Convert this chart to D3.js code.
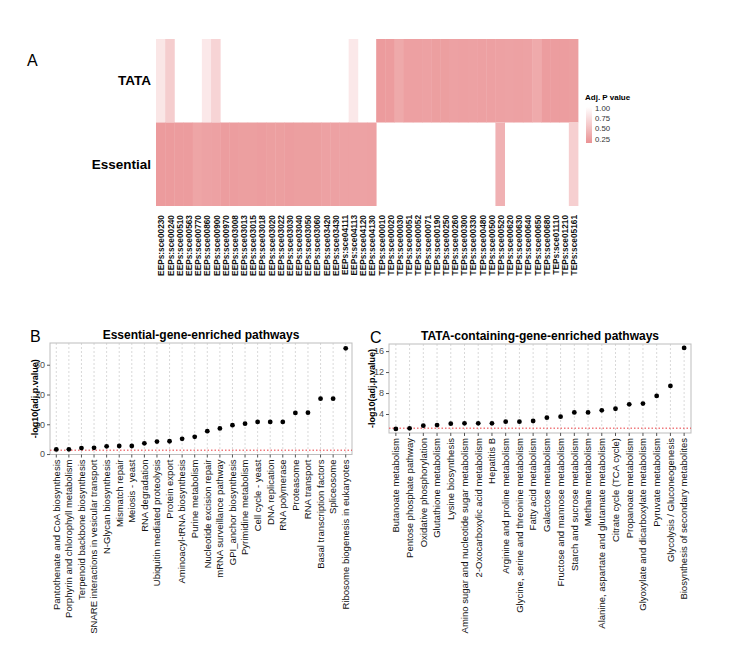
<!DOCTYPE html>
<html><head><meta charset="utf-8">
<script src="https://cdn.jsdelivr.net/npm/d3@7"></script>
<style>body{margin:0;background:#fff}svg{display:block;font-family:"Liberation Sans",Arial,sans-serif}</style>
</head><body><svg id="c" width="736" height="662"></svg>
<script>
// ---------- DATA ----------
const eepCols = ["EEPs:sce00230","EEPs:sce00240","EEPs:sce00510","EEPs:sce00563","EEPs:sce00770","EEPs:sce00860","EEPs:sce00900","EEPs:sce00970","EEPs:sce03008","EEPs:sce03013","EEPs:sce03015","EEPs:sce03018","EEPs:sce03020","EEPs:sce03022","EEPs:sce03030","EEPs:sce03040","EEPs:sce03050","EEPs:sce03060","EEPs:sce03420","EEPs:sce03430","EEPs:sce04111","EEPs:sce04113","EEPs:sce04120","EEPs:sce04130"];
const tepCols = ["TEPs:sce00010","TEPs:sce00020","TEPs:sce00030","TEPs:sce00051","TEPs:sce00052","TEPs:sce00071","TEPs:sce00190","TEPs:sce00250","TEPs:sce00260","TEPs:sce00300","TEPs:sce00330","TEPs:sce00480","TEPs:sce00500","TEPs:sce00520","TEPs:sce00620","TEPs:sce00630","TEPs:sce00640","TEPs:sce00650","TEPs:sce00680","TEPs:sce01110","TEPs:sce01210","TEPs:sce05161"];
const heatRows = ["TATA","Essential"];
// adjusted p values (null = not enriched)
const tataEEP = [0.80,0.60,null,null,null,0.82,0.66,null,null,null,null,null,null,null,null,null,null,null,null,null,null,0.82,null,null];
const tataTEP = [0.20,0.21,0.31,0.24,0.24,0.25,0.23,0.23,0.25,0.24,0.25,0.24,0.24,0.25,0.26,0.25,0.26,0.32,0.22,0.22,0.22,0.23];
const essEEP = [0.20,0.20,0.21,0.21,0.28,0.26,0.25,0.22,0.22,0.23,0.23,0.22,0.23,0.23,0.22,0.23,0.23,0.23,0.25,0.25,0.26,0.26,0.26,0.25];
const essTEP = [null,null,null,null,null,null,null,null,null,null,null,null,null,0.38,null,null,null,null,null,null,null,0.62];
const legendTicks = [1.00,0.75,0.50,0.25];

const essPathways = ["Pantothenate and CoA biosynthesis","Porphyrin and chlorophyll metabolism","Terpenoid backbone biosynthesis","SNARE interactions in vesicular transport","N-Glycan biosynthesis","Mismatch repair","Meiosis - yeast","RNA degradation","Ubiquitin mediated proteolysis","Protein export","Aminoacyl-tRNA biosynthesis","Purine metabolism","Nucleotide excision repair","mRNA surveillance pathway","GPI_anchor biosynthesis","Pyrimidine metabolism","Cell cycle - yeast","DNA replication","RNA polymerase","Proteasome","RNA transport","Basal transcription factors","Spliceosome","Ribosome biogenesis in eukaryotes"];
const essValues = [1.55,1.6,2.0,2.1,2.6,2.7,2.7,3.6,4.2,4.3,5.1,5.8,7.7,8.6,9.7,10.2,10.8,10.8,10.8,13.8,13.9,18.6,18.6,35.5];
const essTicks = [0,10,20,30];

const tataPathways = ["Butanoate metabolism","Pentose phosphate pathway","Oxidative phosphorylation","Glutathione metabolism","Lysine biosynthesis","Amino sugar and nucleotide sugar metabolism","2-Oxocarboxylic acid metabolism","Hepatitis B","Arginine and proline metabolism","Glycine, serine and threonine metabolism","Fatty acid metabolism","Galactose metabolism","Fructose and mannose metabolism","Starch and sucrose metabolism","Methane metabolism","Alanine, aspartate and glutamate metabolism","Citrate cycle (TCA cycle)","Propanoate metabolism","Glyoxylate and dicarboxylate metabolism","Pyruvate metabolism","Glycolysis / Gluconeogenesis","Biosynthesis of secondary metabolites"];
const tataValues = [1.15,1.27,1.78,1.9,2.16,2.22,2.22,2.22,2.54,2.54,2.67,3.3,3.5,4.3,4.3,4.7,5.0,5.85,6.0,7.45,9.35,16.6];
const tataTicks = [4,8,12,16];
const cutoff = -Math.log10(0.05);

// ---------- DRAW ----------
const svg = d3.select("#c");

// Panel A heatmap
const cols = eepCols.concat(tepCols);
const tataVals = tataEEP.concat(tataTEP);
const essVals = essEEP.concat(essTEP);
const rowVals = {TATA: tataVals, Essential: essVals};
const hx = d3.scaleBand().domain(cols).range([156, 578]);
const hy = d3.scaleBand().domain(heatRows).range([39, 206]);
const col = d3.scaleLinear().domain([0.13, 1]).range(["#EA9294", "#FFFFFF"]);

svg.append("text").attr("x", 27).attr("y", 66).attr("font-size", 16).text("A");

heatRows.forEach(r => {
  svg.append("g").selectAll("rect").data(cols.map((c, i) => ({c, v: rowVals[r][i]})).filter(d => d.v != null))
    .join("rect")
    .attr("x", d => hx(d.c)).attr("width", hx.bandwidth() + 0.4)
    .attr("y", hy(r)).attr("height", hy.bandwidth())
    .attr("fill", d => col(d.v));
  svg.append("text").attr("x", 151).attr("y", hy(r) + hy.bandwidth() / 2)
    .attr("dy", "0.35em").attr("text-anchor", "end").attr("font-weight", "bold")
    .attr("font-size", 13.5).text(r);
});
svg.append("g").selectAll("text").data(cols).join("text")
  .attr("transform", d => `translate(${hx(d) + hx.bandwidth() / 2 + 1},${215}) rotate(-90)`)
  .attr("dy", "0.35em").attr("text-anchor", "end").attr("font-weight", "bold")
  .attr("font-size", 8.3).attr("fill", "#111").text(d => d);

// legend
const ly = d3.scaleLinear().domain([1, 0.13]).range([107, 143]);
const defs = svg.append("defs");
const grad = defs.append("linearGradient").attr("id", "lg").attr("x1", 0).attr("x2", 0).attr("y1", 0).attr("y2", 1);
d3.range(0, 1.01, 0.1).forEach(t => {
  grad.append("stop").attr("offset", t).attr("stop-color", col(1 - t * (1 - 0.13)));
});
svg.append("rect").attr("x", 586).attr("y", ly(1)).attr("width", 6).attr("height", ly(0.13) - ly(1)).attr("fill", "url(#lg)");
svg.append("text").attr("x", 585).attr("y", 100).attr("font-size", 8).attr("font-weight", "bold").text("Adj. P value");
svg.append("g").selectAll("text").data(legendTicks).join("text")
  .attr("x", 595).attr("y", d => ly(d) + 1).attr("dy", "0.35em").attr("font-size", 7.8).attr("fill", "#333")
  .text(d => d.toFixed(2));

// dot panels
function dotPanel(o) {
  const g = svg.append("g");
  const x = d3.scaleBand().domain(o.cats).range([o.x0, o.x1]);
  const y = d3.scaleLinear().domain(o.dom).range([o.y1, o.y0]);
  // grid
  g.append("g").selectAll("line").data(o.cats).join("line")
    .attr("x1", d => x(d) + x.bandwidth() / 2).attr("x2", d => x(d) + x.bandwidth() / 2)
    .attr("y1", o.y0).attr("y2", o.y1)
    .attr("stroke", "#c8c8c8").attr("stroke-width", 0.7).attr("stroke-dasharray", "2,2");
  // border
  g.append("rect").attr("x", o.x0).attr("y", o.y0).attr("width", o.x1 - o.x0).attr("height", o.y1 - o.y0)
    .attr("fill", "none").attr("stroke", "#bdbdbd").attr("stroke-width", 1);
  // cutoff line
  g.append("line").attr("x1", o.x0).attr("x2", o.x1).attr("y1", y(cutoff)).attr("y2", y(cutoff))
    .attr("stroke", "#e8383d").attr("stroke-width", 1).attr("stroke-dasharray", "1.5,2");
  // points
  g.append("g").selectAll("circle").data(o.cats.map((c, i) => ({c, v: o.vals[i]}))).join("circle")
    .attr("cx", d => x(d.c) + x.bandwidth() / 2).attr("cy", d => y(d.v)).attr("r", 2.4).attr("fill", "#000");
  // y axis
  const ya = g.append("g").attr("transform", `translate(${o.x0},0)`)
    .call(d3.axisLeft(y).tickValues(o.ticks).tickSize(3).tickPadding(2));
  ya.select(".domain").remove();
  ya.selectAll("line").attr("stroke", "#555");
  ya.selectAll("text").attr("font-size", 9).attr("fill", "#4d4d4d").attr("font-family", "Liberation Sans, Arial, sans-serif");
  // x ticks & labels
  g.append("g").selectAll("line").data(o.cats).join("line")
    .attr("x1", d => x(d) + x.bandwidth() / 2).attr("x2", d => x(d) + x.bandwidth() / 2)
    .attr("y1", o.y1).attr("y2", o.y1 + 3).attr("stroke", "#555");
  g.append("g").selectAll("text").data(o.cats).join("text")
    .attr("transform", d => `translate(${x(d) + x.bandwidth() / 2},${o.y1 + 5}) rotate(-90)`)
    .attr("dy", "0.35em").attr("text-anchor", "end").attr("font-size", 9.5).attr("fill", "#111").text(d => d);
  // titles
  g.append("text").attr("x", (o.x0 + o.x1) / 2).attr("y", o.y0 - 4).attr("text-anchor", "middle")
    .attr("font-weight", "bold").attr("font-size", 12).text(o.title);
  g.append("text").attr("transform", `translate(${o.ylx},${(o.y0 + o.y1) / 2}) rotate(-90)`)
    .attr("text-anchor", "middle").attr("font-weight", "bold").attr("font-size", 9).text("-log10(adj.p.value)");
  g.append("text").attr("x", o.lx).attr("y", o.y0 - 1).attr("font-size", 16).text(o.letter);
}

dotPanel({cats: essPathways, vals: essValues, ticks: essTicks, dom: [-0.15, 37.3],
  x0: 50, x1: 352, y0: 343, y1: 454.5, title: "Essential-gene-enriched pathways",
  ylx: 38, letter: "B", lx: 30});
dotPanel({cats: tataPathways, vals: tataValues, ticks: tataTicks, dom: [0.38, 17.35],
  x0: 389, x1: 691, y0: 344, y1: 433, title: "TATA-containing-gene-enriched pathways",
  ylx: 375, letter: "C", lx: 370});
</script></body></html>
